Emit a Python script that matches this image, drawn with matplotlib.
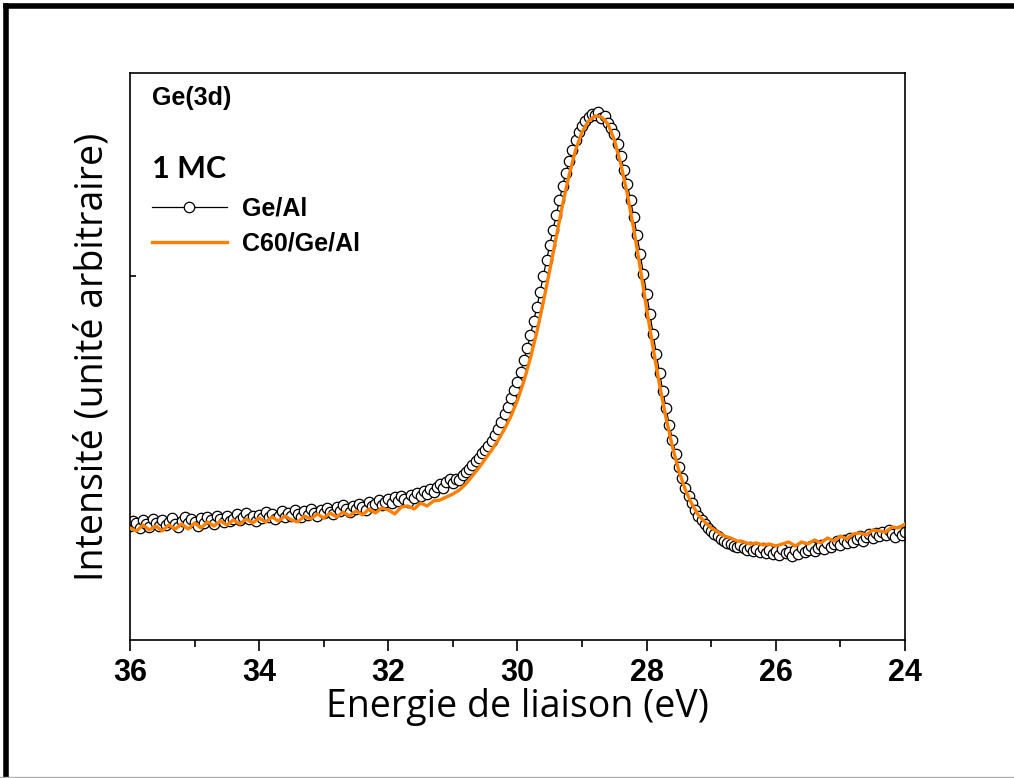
import matplotlib
matplotlib.use('Agg')

import numpy as np
import matplotlib.pyplot as plt
from matplotlib.lines import Line2D
from matplotlib.ticker import MultipleLocator

'''Binding energy grids (eV), 36 -> 24'''
energie_ge = np.round(np.arange(36.0, 23.975, -0.05), 2)   # Ge/Al, 0.05 eV step
energie_c60 = np.round(np.arange(36.0, 23.95, -0.1), 1)    # C60/Ge/Al, 0.1 eV step

'''Ge(3d) intensity, arbitrary units, Ge/Al (1 MC)'''
ge_al = [114, 119, 117, 112, 120, 116, 113, 121, 117, 114,
         120, 115, 118, 122, 116, 113, 119, 123, 117, 121,
         118, 114, 122, 117, 123, 120, 116, 124, 121, 118,
         124, 119, 121, 126, 120, 123, 127, 121, 124, 119,
         125, 122, 128, 123, 126, 121, 124, 129, 123, 127,
         124, 130, 126, 123, 129, 125, 131, 127, 124, 130,
         127, 132, 128, 126, 133, 129, 135, 131, 128, 134,
         131, 136, 133, 130, 138, 134, 136, 140, 135, 138,
         141, 137, 143, 139, 144, 141, 138, 145, 142, 147,
         144, 149, 146, 151, 148, 153, 156, 152, 158, 161,
         157, 161, 160, 165, 168, 171, 175, 179, 182, 187,
         190, 194, 199, 205, 211, 218, 226, 233, 242, 250,
         258, 268, 280, 292, 305, 319, 333, 348, 364, 380,
         395, 410, 425, 440, 454, 467, 479, 490, 500, 508,
         514, 519, 523, 526, 525, 528, 522, 524, 517, 512,
         506, 496, 484, 470, 456, 440, 423, 405, 386, 366,
         346, 326, 306, 286, 267, 249, 232, 215, 200, 186,
         173, 162, 152, 144, 137, 130, 124, 120, 116, 112,
         109, 106, 104, 101, 99, 97, 96, 94, 93, 95,
         92, 90, 93, 89, 91, 88, 92, 87, 90, 86,
         89, 85, 91, 87, 88, 84, 90, 86, 92, 88,
         90, 94, 89, 92, 95, 91, 97, 93, 96, 99,
         95, 100, 97, 102, 98, 101, 104, 99, 103, 106,
         102, 107, 104, 108, 105, 110, 106, 103, 109, 105,
         108]

'''Ge(3d) intensity, arbitrary units, C60/Ge/Al'''
c60_ge_al = [112, 109, 115, 110, 114, 109, 115, 111, 116, 111,
             117, 112, 118, 114, 119, 115, 120, 116, 121, 117,
             122, 118, 123, 119, 124, 120, 118, 124, 121, 126,
             122, 127, 123, 128, 124, 129, 125, 131, 127, 132,
             130, 126, 133, 134, 131, 137, 134, 139, 140, 143,
             146, 150, 156, 164, 172, 181, 190, 200, 211, 224,
             240, 259, 282, 308, 338, 370, 403, 436, 465, 490,
             508, 519, 524, 523, 516, 500, 476, 446, 411, 372,
             331, 292, 255, 222, 193, 169, 150, 136, 125, 118,
             112, 108, 104, 102, 99, 98, 96, 97, 95, 96,
             94, 96, 98, 94, 98, 96, 100, 97, 102, 99,
             104, 101, 106, 107, 105, 110, 109, 108, 113, 112,
             116]

fig = plt.figure(figsize=(10.14, 7.78), dpi=100)
ax = fig.add_axes([0.1282, 0.1774, 0.7643, 0.7288])

ax.plot(energie_ge, ge_al, color='black', lw=0.9, marker='o', ms=7.5,
        mfc='white', mec='black', mew=0.9, label='Ge/Al', zorder=2)
ax.plot(energie_c60, c60_ge_al, color='#ff7f00', lw=2.4, label='C60/Ge/Al', zorder=3)

ax.set_xlim(36, 24)
ax.set_ylim(0, 567)

# axes style
for s in ax.spines.values():
    s.set_linewidth(1.2)
ax.xaxis.set_major_locator(MultipleLocator(2))
ax.xaxis.set_minor_locator(MultipleLocator(1))
ax.tick_params(axis='x', which='major', direction='out', length=8, width=1.2, pad=5)
ax.tick_params(axis='x', which='minor', direction='out', length=5, width=1.2)
ax.set_yticks([364])
ax.set_yticklabels([])
ax.tick_params(axis='y', direction='in', length=4, width=1.2)
for lab in ax.get_xticklabels():
    lab.set_fontfamily('Liberation Sans')
    lab.set_fontweight('bold')
    lab.set_fontsize(22)

ax.set_xlabel('Energie de liaison (eV)', fontfamily='Open Sans', fontsize=27, labelpad=0)
ax.set_ylabel('Intensité (unité arbitraire)', fontfamily='Open Sans', fontsize=27, labelpad=10)

ax.text(0.028, 0.977, 'Ge(3d)', transform=ax.transAxes, ha='left', va='top',
        fontfamily='Liberation Sans', fontweight='bold', fontsize=18)
ax.text(0.029, 0.855, '1 MC', transform=ax.transAxes, ha='left', va='top',
        fontfamily='Lato', fontweight='bold', fontsize=22)

ax.legend(loc='upper left', bbox_to_anchor=(0.028, 0.782), frameon=False,
          borderpad=0, borderaxespad=0, handlelength=3.0, handletextpad=0.6,
          labelspacing=0.45, prop={'family': 'Liberation Sans', 'weight': 'bold', 'size': 18})

# outer frame of the figure
fig.add_artist(Line2D([0.0059, 0.0059], [0.0, 0.992], transform=fig.transFigure,
                      color='black', lw=4))
fig.add_artist(Line2D([0.0059, 1.0], [0.992, 0.992], transform=fig.transFigure,
                      color='black', lw=4))
fig.add_artist(Line2D([0.0, 1.0], [0.001, 0.001], transform=fig.transFigure,
                      color='#b0b0b0', lw=1))

plt.savefig('out.png', dpi=100)
plt.close()
